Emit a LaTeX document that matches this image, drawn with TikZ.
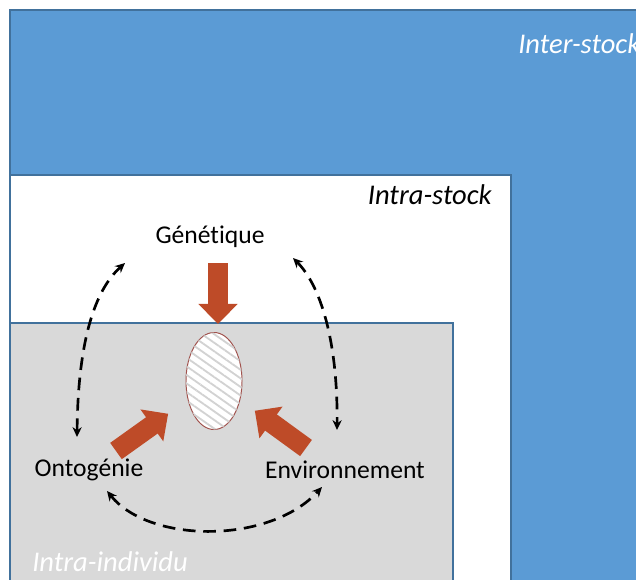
\documentclass[tikz,border=0pt]{standalone}
\usepackage{fontspec}
\setmainfont{Carlito}[Ligatures=NoCommon]
\usetikzlibrary{arrows.meta, positioning, patterns.meta, shapes.geometric}
\definecolor{stockblue}{RGB}{91,155,213}
\definecolor{edgeblue}{RGB}{65,113,156}
\definecolor{indivgray}{RGB}{217,217,217}
\definecolor{rust}{RGB}{190,75,40}
\definecolor{blobedge}{RGB}{160,82,77}
\tikzset{
    zone/.style={draw=edgeblue, line width=1pt},
    factor/.style={font=\fontsize{18.2}{21}\selectfont, inner sep=0pt, anchor=base},
    zonelabel/.style={font=\fontsize{20.3}{23}\selectfont\itshape, inner sep=0pt},
    push/.style={rust, line width=0.5cm, -{Triangle[width=0.95cm, length=0.5cm]}},
    link/.style={dash pattern=on 9pt off 5.5pt, line width=1.9pt,
        {Stealth[length=7pt, width=6.5pt]}-{Stealth[length=7pt, width=6.5pt]}},
    blobshape/.style={ellipse, draw=blobedge, line width=0.7pt, fill=white,
        minimum width=1.4cm, minimum height=2.425cm, inner sep=0pt,
        postaction={pattern={Lines[angle=-35, distance=5pt, line width=1.3pt]}, pattern color=gray!35}},
}

\begin{document}
\begin{tikzpicture}[x=0.025cm, y=-0.025cm]
    \useasboundingbox (0,0) rectangle (636,579);
    \clip (0,0) rectangle (636,579);

    % nested zones
    \draw[zone, fill=stockblue] (10,10) rectangle (660,600);
    \draw[zone, fill=white] (10,175) rectangle (511,600);
    \draw[zone, fill=indivgray] (10,323) rectangle (453,600);

    \node[zonelabel, text=white, anchor=base west] (inter) at (518,53) {Inter-stock};
    \node[zonelabel, anchor=base east]             (intra) at (492,204) {Intra-stock};
    \node[zonelabel, text=white, anchor=base west] (indiv) at (32,571) {Intra-individu};

    % factors
    \node[factor] (gen)  at (210,243) {Génétique};
    \node[factor] (onto) at (89,476)  {Ontogénie};
    \node[factor] (env)  at (345,478) {Environnement};

    \node[blobshape] (blob) at (214,381) {};

    % influences on the individual
    \coordinate (genTail)  at (218,263);
    \coordinate (ontoTail) at (116,451);
    \coordinate (envTail)  at (306,448);
    \draw[push, shorten >=8*0.025cm] (genTail) -- (genTail |- blob.north);
    \draw[push, shorten >=0.6cm] (ontoTail) -- (blob);
    \draw[push, shorten >=0.45cm] (envTail) -- (blob);

    % interactions
    \coordinate (genL)   at (125,263);
    \coordinate (genR)   at (293,258);
    \coordinate (ontoUp) at (77,437);
    \coordinate (ontoDn) at (107,491);
    \coordinate (envUp)  at (337,430);
    \coordinate (envDn)  at (322,487);
    \draw[link] (ontoUp) .. controls (78,340) and (95,290) .. (genL);
    \draw[link] (genR) .. controls (320,285) and (338,340) .. (envUp);
    \draw[link] (ontoDn) .. controls (150,544) and (270,544) .. (envDn);
\end{tikzpicture}
\end{document}
